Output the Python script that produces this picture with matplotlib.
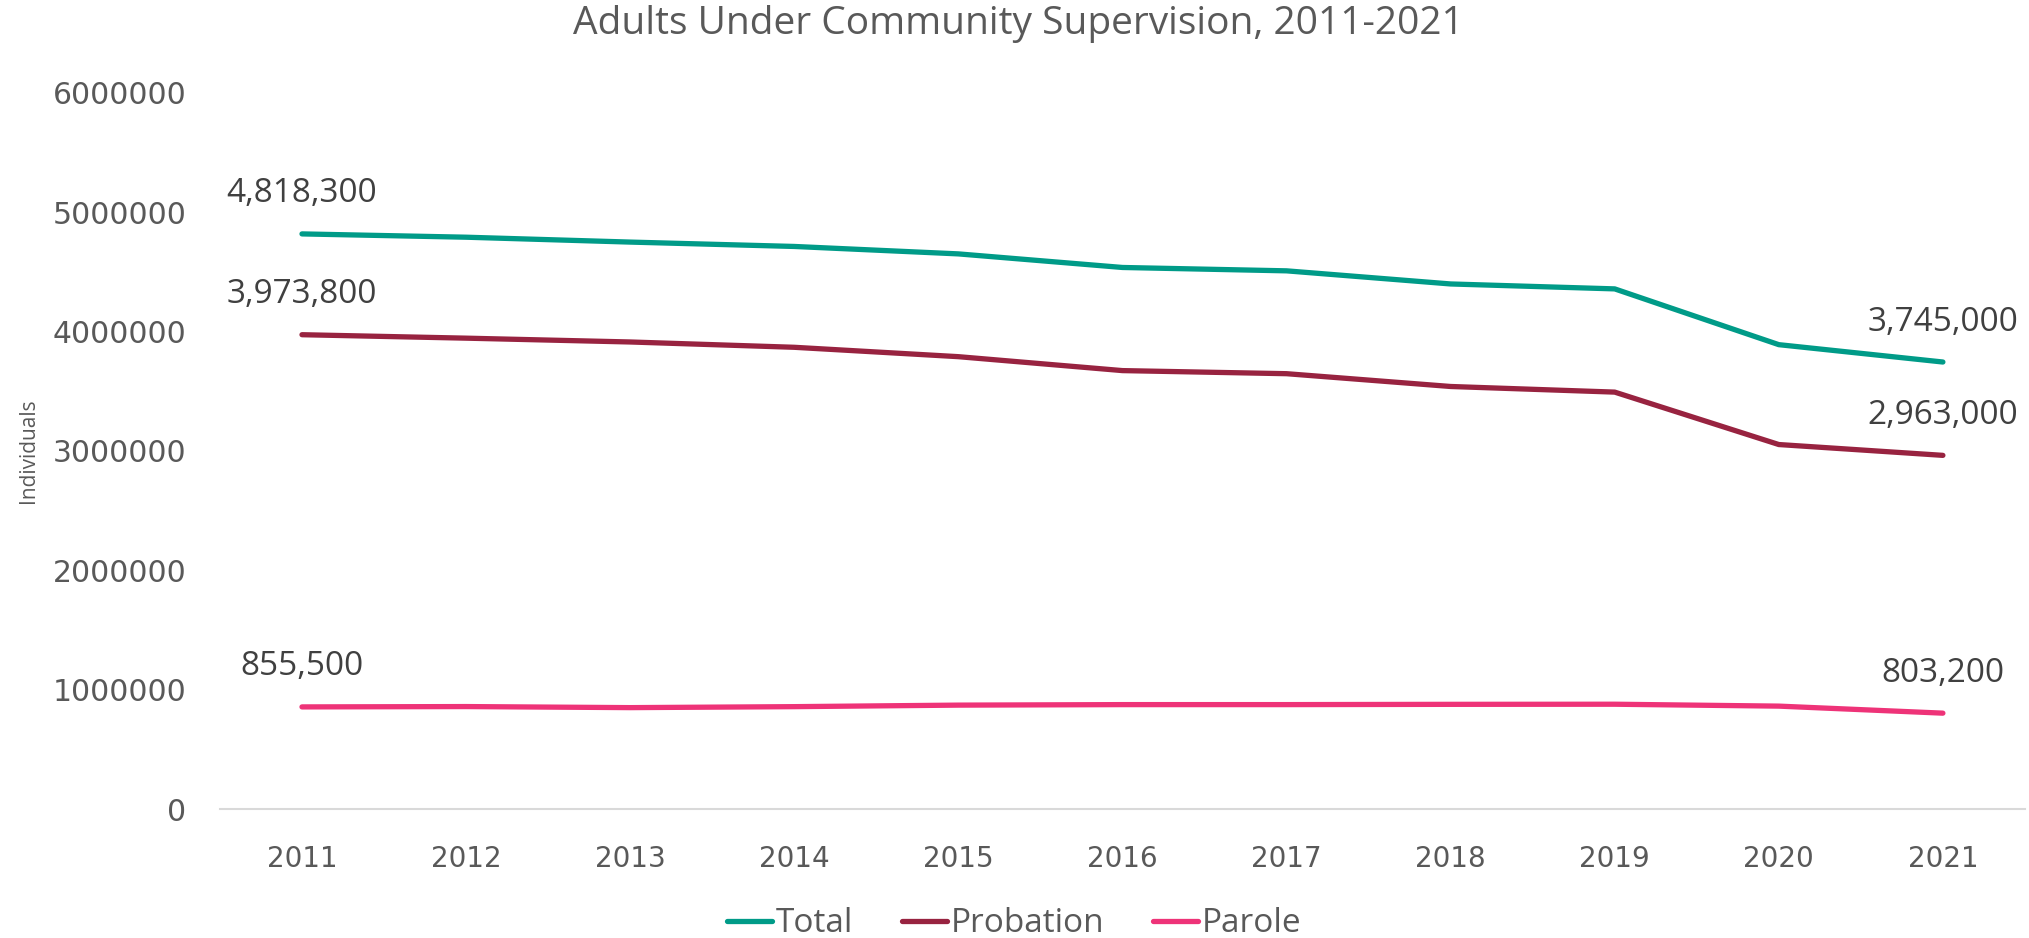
import matplotlib
matplotlib.use('Agg')
import matplotlib.pyplot as plt
from matplotlib.ticker import FixedLocator, FuncFormatter

years = ['2011', '2012', '2013', '2014', '2015', '2016', '2017', '2018', '2019', '2020', '2021']
total = [4818300, 4790700, 4749800, 4713200, 4650900, 4537100, 4508900, 4399000, 4357700, 3890400, 3745000]
probation = [3973800, 3944900, 3912900, 3868400, 3789800, 3673100, 3647200, 3540000, 3492900, 3053700, 2963000]
parole = [855500, 858400, 849500, 857700, 870500, 874800, 874800, 877000, 878000, 862100, 803200]

series = [('Total', total, '#009B88'),
          ('Probation', probation, '#982340'),
          ('Parole', parole, '#EE3378')]

text_font = ['Open Sans', 'DejaVu Sans']

fig = plt.figure(figsize=(20.29, 9.38), dpi=100)
ax = fig.add_axes([0.1084, 0.1375, 0.8896, 0.7635])

x = list(range(len(years)))
for name, vals, col in series:
    ax.plot(x, vals, color=col, lw=3.8, solid_capstyle='round', solid_joinstyle='round', label=name)

# first and last value labels
for name, vals, col in series:
    for i in (0, len(vals) - 1):
        ax.annotate(f'{vals[i]:,}', (i, vals[i]), xytext=(0, 40), textcoords='offset pixels',
                    ha='center', va='center', fontsize=24, color='#404040', family=text_font)

ax.set_xlim(-0.5, len(years) - 0.5)
ax.set_ylim(0, 6000000)
ax.set_xticks(x)
ax.set_xticklabels(years)
ax.yaxis.set_major_locator(FixedLocator([0, 1000000, 2000000, 3000000, 4000000, 5000000, 6000000]))
ax.yaxis.set_major_formatter(FuncFormatter(lambda v, p: '%d' % v))
ax.tick_params(axis='both', length=0, labelcolor='#595959')
ax.tick_params(axis='x', pad=26, labelsize=20)
ax.tick_params(axis='y', pad=24, labelsize=21.5)

for s in ['top', 'right', 'left']:
    ax.spines[s].set_visible(False)
ax.spines['bottom'].set_color('#D9D9D9')
ax.spines['bottom'].set_linewidth(1.5)

fig.text(0.5017, 0.974, 'Adults Under Community Supervision, 2011-2021', ha='center', va='center',
         fontsize=28, color='#595959', family=text_font)
fig.text(0.0138, 0.52, 'Individuals', rotation=90, ha='center', va='center',
         fontsize=15, color='#595959', family=text_font)

leg = fig.legend(loc='center', bbox_to_anchor=(0.4998, 0.015), ncol=3, frameon=False,
                 handlelength=1.35, handletextpad=0.12, columnspacing=1.45,
                 prop={'family': text_font, 'size': 24})
for t in leg.get_texts():
    t.set_color('#595959')

fig.savefig('out.png', dpi=100)
